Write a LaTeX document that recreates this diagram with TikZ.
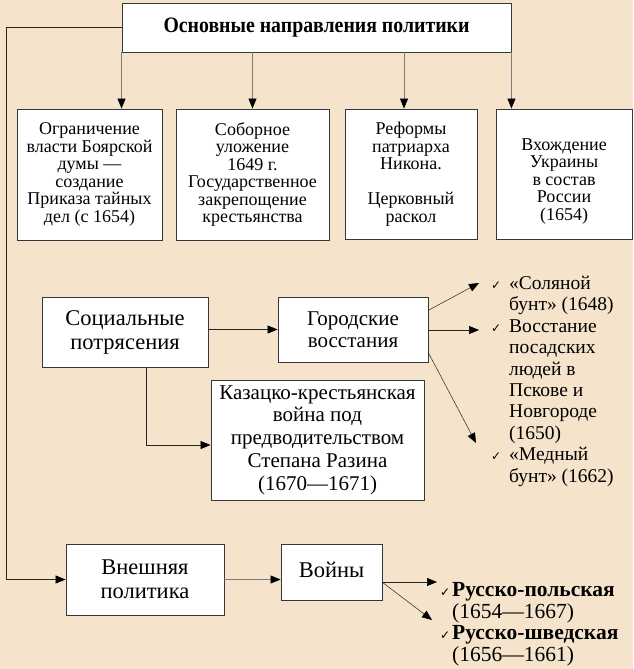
\documentclass[tikz,border=0pt]{standalone}
\usepackage{fontspec}
\setmainfont{Liberation Serif}
\newfontfamily\cbf{Liberation Serif}[FakeStretch=0.9]
\newfontfamily\symf{DejaVu Sans}
\usetikzlibrary{arrows.meta}
\definecolor{bg}{RGB}{245,227,204}
\definecolor{edge}{RGB}{55,55,55}
\definecolor{shaft}{RGB}{125,125,125}
\newcommand\ck{\makebox[18pt][l]{\symf\fontsize{12}{12}\selectfont ✓}}
\newcommand\ind{\hspace*{18pt}}
\newcommand\cks{\makebox[12pt][l]{\symf\fontsize{12}{12}\selectfont ✓}}
\newcommand\inds{\hspace*{12pt}}
\begin{document}
\begin{tikzpicture}[x=1pt,y=-1pt,
  box/.style={draw=edge, line width=0.9pt, fill=white, align=center, inner sep=0pt},
  small/.style={font=\fontsize{18}{17.5}\selectfont},
  big/.style={font=\fontsize{22.5}{24}\selectfont},
  mid/.style={font=\fontsize{21}{21.5}\selectfont},
  arr/.style={draw=shaft, line width=0.8pt, -{Triangle[length=10pt,width=8pt,color=black]}},
  darr/.style={draw=black!85, line width=0.7pt, -{Triangle[length=10pt,width=8pt,color=black]}},
  list/.style={align=left, inner sep=0pt, anchor=north west, font=\fontsize{19.5}{21.4}\selectfont}]
\fill[bg] (0,0) rectangle (633,669);
\useasboundingbox (0,0) rectangle (633,669);

% top
\node[box, minimum width=389pt, minimum height=49pt, font=\cbf\bfseries\fontsize{22}{24}\selectfont] (top) at (316.5,27.5) {Основные направления политики};

% row 2
\node[box, small, minimum width=145pt, minimum height=131pt] (b1) at (89.5,174.5)
  {Ограничение\\власти Боярской\\думы —\\создание\\Приказа тайных\\дел (с 1654)};
\node[box, small, minimum width=153pt, minimum height=131pt] (b2) at (252.5,174.5)
  {Соборное\\уложение\\1649 г.\\Государственное\\закрепощение\\крестьянства};
\node[box, small, minimum width=132pt, minimum height=130pt] (b3) at (411,174)
  {Реформы\\патриарха\\Никона.\\[17.5pt]Церковный\\раскол};
\node[box, small, minimum width=136pt, minimum height=130pt] (b4) at (564,174)
  {\rule{0pt}{26pt}Вхождение\\Украины\\в состав\\России\\(1654)};

% row 3
\node[box, big, minimum width=166pt, minimum height=70pt] (soc) at (125,332) {Социальные\\потрясения};
\node[box, mid, minimum width=150pt, minimum height=65pt] (gor) at (353,329.5) {Городские\\восстания};
\node[box, mid, font=\fontsize{21}{22.8}\selectfont, minimum width=213pt, minimum height=120pt] (kaz) at (317.5,440)
  {Казацко-крестьянская\\война под\\предводительством\\Степана Разина\\(1670—1671)};

\node[list] (gl) at (491,276)
  {\ck«Соляной\\\ind бунт» (1648)\\\ck Восстание\\\ind посадских\\\ind людей в\\\ind Пскове и\\\ind Новгороде\\\ind (1650)\\\ck«Медный\\\ind бунт» (1662)};

% row 4
\node[box, big, minimum width=158pt, minimum height=71pt] (vn) at (145,579.5) {Внешняя\\политика};
\node[box, big, minimum width=101pt, minimum height=56pt] (voi) at (331.5,572) {\raisebox{4pt}{Войны}};

\node[list, font=\fontsize{21.5}{21.5}\selectfont] (wl) at (440,582.5)
  {\cks{\bfseries Русско-польская}\\\inds(1654—1667)\\\cks{\bfseries Русско-шведская}\\\inds(1656—1661)};

% connectors from top
\coordinate (a3) at (404,52);
\draw[arr] (top.south west) -- (top.south west |- b1.north);
\draw[arr] (b2.north |- top.south) -- (b2.north);
\draw[arr] (a3 |- top.south) -- (a3 |- b3.north);
\draw[arr] (top.south east) -- (top.south east |- b4.north);

% left long connector
\coordinate (lc) at (6,0);
\draw[darr] (top.west) -| (lc |- vn.west) -- (vn.west);

% social
\draw[darr] (gor.west -| soc.east) -- (gor.west);
\coordinate (sk) at (146,367);
\draw[darr] (sk) |- ([yshift=-5pt]kaz.west);

% gor to list
\coordinate (g1s) at (429,310);
\coordinate (g1e) at (479,283);
\coordinate (g2e) at (479,330);
\coordinate (g3s) at (428,352);
\coordinate (g3e) at (476,443);
\draw[darr, line width=0.5pt] (g1s) -- (g1e);
\draw[darr] (gor.east |- g2e) -- (g2e);
\draw[darr, line width=0.5pt] (g3s) -- (g3e);

% vn to voi
\draw[arr] (vn.east) -- (vn.east -| voi.west);
\coordinate (w0) at (382,582);
\coordinate (w1) at (437,582);
\coordinate (w2) at (432,620);
\draw[darr] (w0) -- (w1);
\draw[darr, line width=0.5pt] (w0) -- (w2);
\end{tikzpicture}
\end{document}
